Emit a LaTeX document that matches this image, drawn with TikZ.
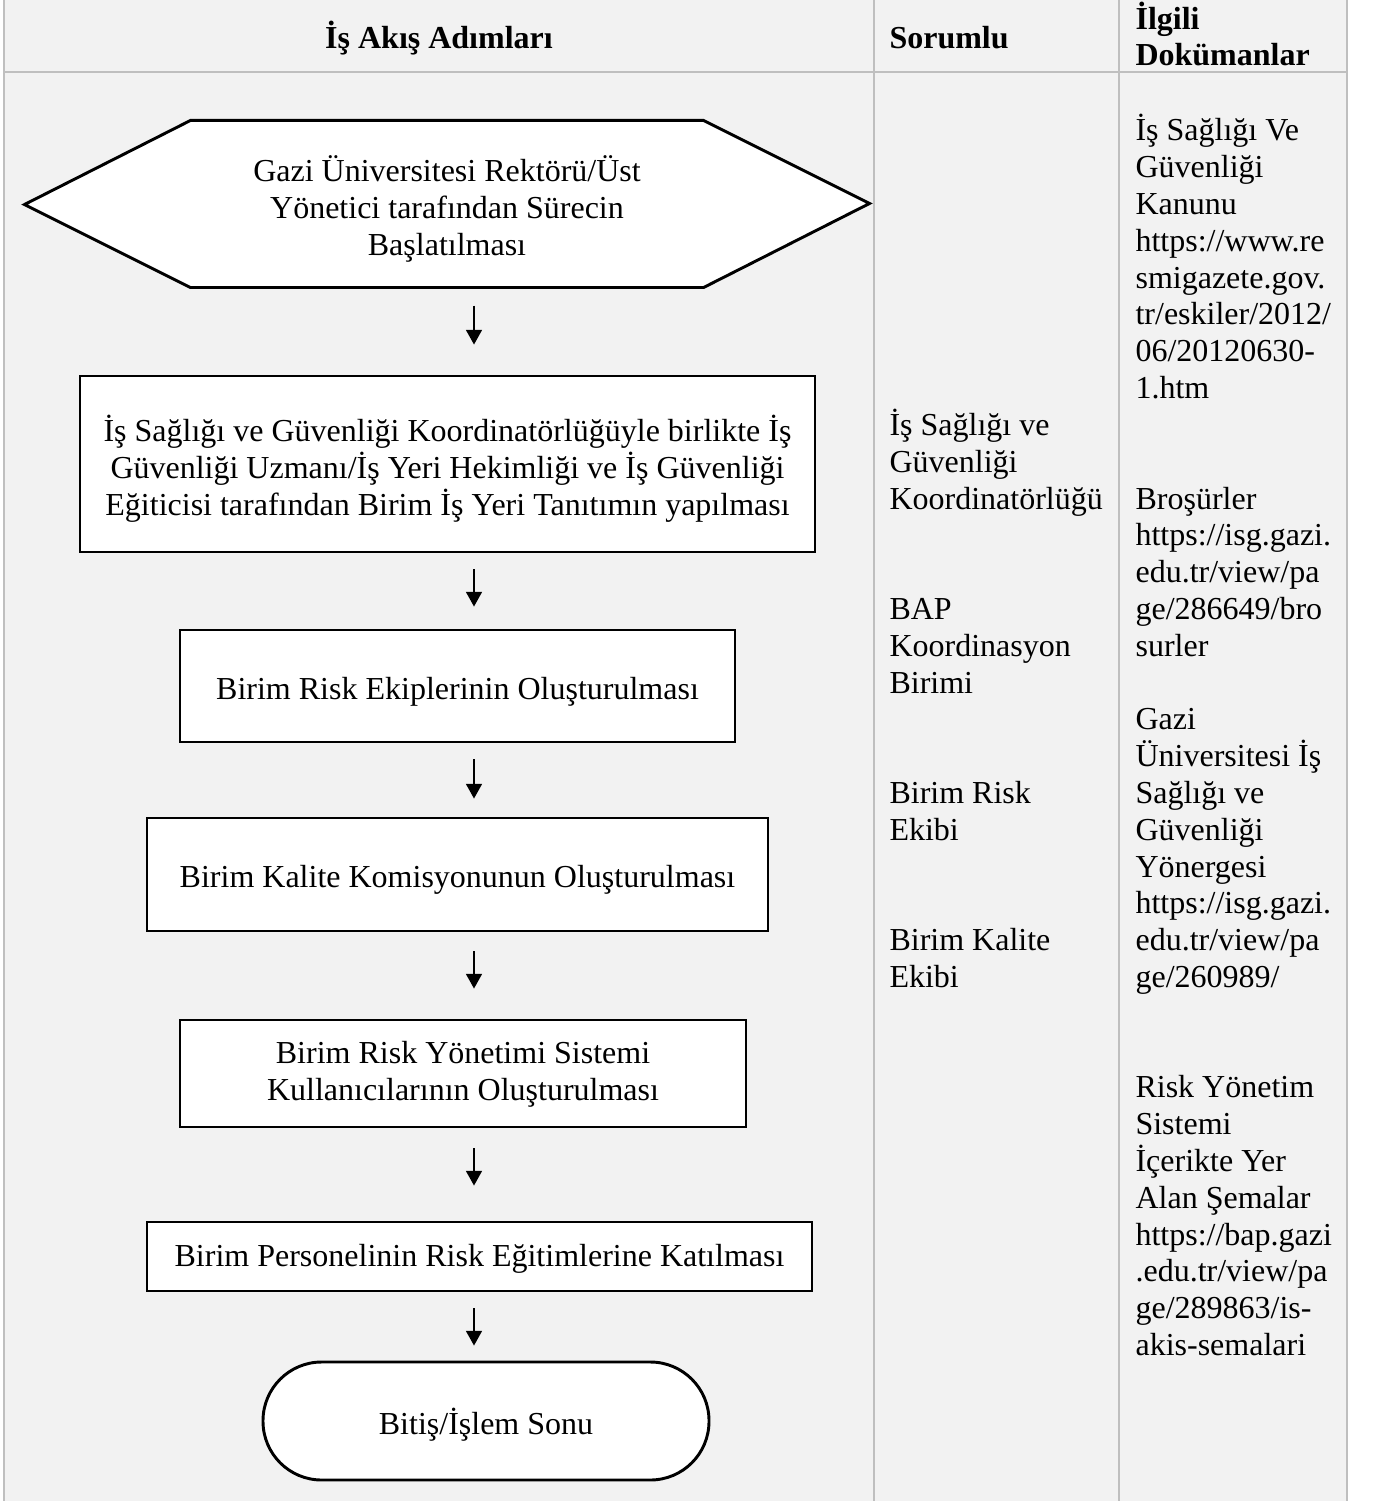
\documentclass[tikz,border=0pt]{standalone}
\usepackage{fontspec}
\setmainfont{Liberation Serif}
\usetikzlibrary{arrows.meta,positioning,backgrounds}
\definecolor{cellgray}{HTML}{F2F2F2}
\definecolor{rulegray}{HTML}{BFBFBF}
\newcommand{\pxu}{0.375pt}
\tikzstyle{every node} = [font=\fontsize{12pt}{13.8pt}\selectfont]
\tikzstyle{stepbox} = [draw, line width=1.1pt, fill=white, align=center, inner sep=0pt, text height=12pt, text depth=2pt]
\tikzstyle{endbox} = [stepbox, rounded corners=22pt]
\tikzstyle{hexbox} = [align=center, inner sep=0pt, minimum width=512*\pxu, minimum height=166*\pxu, text height=40.3pt, text depth=2pt]
\tikzstyle{flow} = [-{Triangle[width=6pt,length=5.5pt]}, line width=0.5pt]
\tikzstyle{rule} = [draw=rulegray, line width=0.6pt]
\tikzstyle{coltext} = [anchor=base west, align=left, inner sep=0pt]
\tikzstyle{head} = [inner sep=0pt, font=\bfseries\fontsize{12pt}{13.8pt}\selectfont]

\begin{document}
\begin{tikzpicture}[x=0.375pt,y=-0.375pt]
	\useasboundingbox (0,0) rectangle (1374,1501);
	\begin{scope}[on background layer]
		\fill[cellgray] (4,0) rectangle (1347,1501);
		\foreach \cx in {4,874,1119,1347}
			\draw[rule] (\cx,0) -- (\cx,1501);
		\draw[rule] (4,72) -- (1347,72);
	\end{scope}
	
	\node[head, anchor=base] (HStep) at (439,49) {İş Akış Adımları};
	\node[head, anchor=base west] (HResp) at (889,49) {Sorumlu};
	\node[head, coltext] (HDocs) at (1135,66) {İlgili\\Dokümanlar};
	
	\node[hexbox] (Start) at (447,204) {Gazi Üniversitesi Rektörü/Üst\\ Yönetici tarafından Sürecin\\ Başlatılması};
	\begin{scope}[on background layer]
		\draw[line width=1.1pt, fill=white] (Start.north west) -- (Start.north east) -- ++(166,83) -- (Start.south east) -- (Start.south west) -- ++(-166,-83) -- cycle;
	\end{scope}
	\node[stepbox, text height=40.6pt, minimum width=735*\pxu, minimum height=176*\pxu] (Intro) at (447.5,464) {İş Sağlığı ve Güvenliği Koordinatörlüğüyle birlikte İş\\ Güvenliği Uzmanı/İş Yeri Hekimliği ve İş Güvenliği\\ Eğiticisi tarafından Birim İş Yeri Tanıtımın yapılması};
	\node[stepbox, minimum width=555*\pxu, minimum height=112*\pxu] (RiskTeam) at (457.5,686) {Birim Risk Ekiplerinin Oluşturulması};
	\node[stepbox, minimum width=621*\pxu, minimum height=113*\pxu] (Quality) at (457.5,874.5) {Birim Kalite Komisyonunun Oluşturulması};
	\node[stepbox, text height=21.9pt, minimum width=566*\pxu, minimum height=107*\pxu] (Users) at (463,1073.5) {Birim Risk Yönetimi Sistemi\\ Kullanıcılarının Oluşturulması};
	\node[stepbox, text height=9.3pt, minimum width=665*\pxu, minimum height=69*\pxu] (Training) at (479.5,1256.5) {Birim Personelinin Risk Eğitimlerine Katılması};
	\node[endbox, minimum width=446*\pxu, minimum height=118*\pxu] (Finish) at (486,1421) {Bitiş/İşlem Sonu};
	
	\coordinate (ax) at (474,0);
	\foreach \from/\to/\ga/\gb in {Start/Intro/18/30, Intro/RiskTeam/16/22, RiskTeam/Quality/16/18, Quality/Users/19/30, Users/Training/20/35, Training/Finish/16/15}
		\draw[flow, shorten <=\ga*\pxu, shorten >=\gb*\pxu] (\from.south -| ax) -- (\to.north -| ax);
	
	\node[coltext] (OHS) at (889,509) {İş Sağlığı ve\\ Güvenliği\\ Koordinatörlüğü};
	\node[coltext] (BAP) at (889,693) {BAP\\ Koordinasyon\\ Birimi};
	\node[coltext] (RiskCrew) at (889,840.2) {Birim Risk\\ Ekibi};
	\node[coltext] (QualityCrew) at (889,987.4) {Birim Kalite\\ Ekibi};
	
	\node[coltext] (Law) at (1135,398.6) {İş Sağlığı Ve\\ Güvenliği\\ Kanunu\\ https://www.re\\ smigazete.gov.\\ tr/eskiler/2012/\\ 06/20120630-\\ 1.htm};
	\node[coltext] (Brochure) at (1135,656.2) {Broşürler\\ https://isg.gazi.\\ edu.tr/view/pa\\ ge/286649/bro\\ surler};
	\node[coltext] (Directive) at (1135,987.4) {Gazi\\ Üniversitesi İş\\ Sağlığı ve\\ Güvenliği\\ Yönergesi\\ https://isg.gazi.\\ edu.tr/view/pa\\ ge/260989/};
	\node[coltext] (Charts) at (1135,1355.4) {Risk Yönetim\\ Sistemi\\ İçerikte Yer\\ Alan Şemalar\\ https://bap.gazi\\ .edu.tr/view/pa\\ ge/289863/is-\\ akis-semalari};
	%\draw[help lines] (0,0) grid (1374,1501);
\end{tikzpicture}
\end{document}
